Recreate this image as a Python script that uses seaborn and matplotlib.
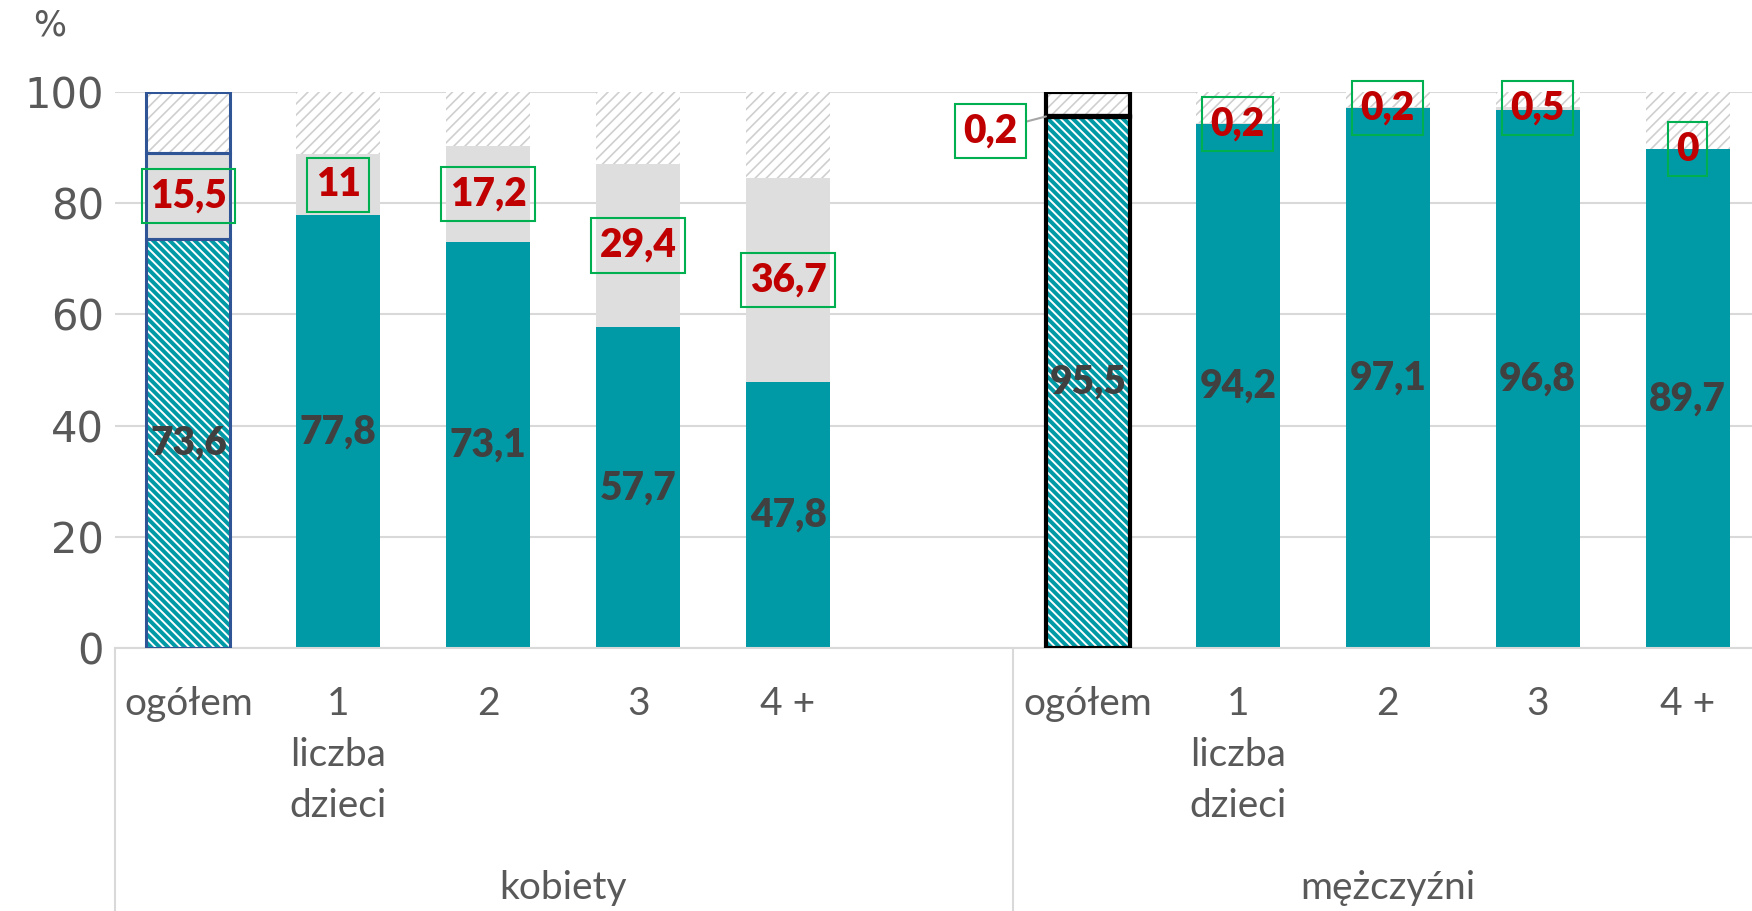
import matplotlib.pyplot as plt
import pandas as pd
import seaborn as sns

groups = ['kobiety', 'mężczyźni']
categories = ['ogółem', '1', '2', '3', '4 +']
women_main = [73.6, 77.8, 73.1, 57.7, 47.8]
women_extra = [15.5, 11, 17.2, 29.4, 36.7]
men_main = [95.5, 94.2, 97.1, 96.8, 89.7]
men_extra = [0.2, 0.2, 0.2, 0.5, 0]
sub_label = ['liczba', 'dzieci']
y_ticks = [0, 20, 40, 60, 80, 100]

TEAL = '#009AA6'
LIGHT = '#DEDEDE'
HATCH_GREY = '#CFCFCF'
RED = '#C00000'
GREEN = '#00B050'
DARK = '#404040'
AXIS_GREY = '#595959'
GRID = '#D9D9D9'
W = 0.56


def fmt(v):
    return '{:g}'.format(v).replace('.', ',')


sns.set_theme(style='white')
plt.rcParams['font.family'] = ['Lato', 'DejaVu Sans']
plt.rcParams['hatch.linewidth'] = 1.0

df = pd.DataFrame({
    'pos': list(range(0, 5)) + list(range(6, 11)),
    'main': women_main + men_main,
    'extra': women_extra + men_extra,
})
df['top'] = df['main'] + df['extra']
df['full'] = 100

fig = plt.figure(figsize=(17.52, 9.11), dpi=100)
ax = fig.add_axes([115 / 1752, 1 - 648 / 911, 1 - 115 / 1752, (648 - 92) / 911])

# layer 1: whole bar up to 100, hatched grey
sns.barplot(data=df, x='pos', y='full', native_scale=True, width=W, color='white',
            saturation=1, errorbar=None, ax=ax)
for p in ax.containers[-1]:
    p.set_facecolor('white')
    p.set_hatch('///')
    p.set_edgecolor(HATCH_GREY)
    p.set_linewidth(0)
    if hasattr(p, 'set_hatch_linewidth'):
        p.set_hatch_linewidth(1.2)

# layer 2: main + extra, light grey
sns.barplot(data=df, x='pos', y='top', native_scale=True, width=W, color=LIGHT,
            saturation=1, errorbar=None, ax=ax)
for p in ax.containers[-1]:
    p.set_linewidth(0)

# layer 3: main, teal
sns.barplot(data=df, x='pos', y='main', native_scale=True, width=W, color=TEAL,
            saturation=1, errorbar=None, ax=ax)
for i, p in enumerate(ax.containers[-1]):
    p.set_linewidth(0)
    if i in (0, 5):
        p.set_hatch('\\\\\\\\')
        p.set_edgecolor('white')
        if hasattr(p, 'set_hatch_linewidth'):
            p.set_hatch_linewidth(1.4)

# outlines for the "ogółem" bars
for idx, col, lw in [(0, '#2F5597', 2.2), (5, 'black', 3.0)]:
    r = df.iloc[idx]
    ax.bar([r.pos] * 3, [r.main, r.extra, 100 - r.top], bottom=[0, r.main, r.top],
           width=W, fill=False, edgecolor=col, linewidth=lw, zorder=3)

ax.set_xlim(-0.49, 10.43)
ax.set_ylim(0, 100)
ax.set_yticks(y_ticks)
ax.set_yticklabels([str(t) for t in y_ticks], family='DejaVu Sans', fontsize=30, color=AXIS_GREY)
ax.tick_params(axis='y', length=0, pad=8)
ax.set_xticks([])
ax.set_xlabel('')
ax.set_ylabel('')
ax.yaxis.grid(True, color=GRID, linewidth=1.5)
ax.set_axisbelow(True)
for s in ['left', 'right', 'top']:
    ax.spines[s].set_visible(False)
ax.spines['bottom'].set_color(GRID)
ax.spines['bottom'].set_linewidth(1.5)

# value labels
for i, r in df.iterrows():
    ax.text(r.pos, r.main / 2, fmt(r.main), ha='center', va='center', fontsize=28,
            fontweight='heavy', color=DARK, zorder=5)
    bbox = dict(boxstyle='square,pad=0.22', fc='none', ec=GREEN, lw=1.5)
    if i == 5:
        ax.annotate(fmt(r.extra), xy=(r.pos - W / 2, r.main + r.extra / 2),
                    xytext=(5.35, 93), ha='center', va='center', fontsize=28,
                    fontweight='heavy', color=RED, bbox=bbox, zorder=5,
                    arrowprops=dict(arrowstyle='-', color='#A6A6A6', lw=1.5,
                                    shrinkA=0, shrinkB=0))
    else:
        ax.text(r.pos, r.main + r.extra / 2, fmt(r.extra), ha='center', va='center',
                fontsize=28, fontweight='heavy', color=RED, bbox=bbox, zorder=5)

# category axis texts
tr = ax.get_xaxis_transform()
for g, offset in enumerate([0, 6]):
    for j, c in enumerate(categories):
        ax.text(offset + j, -0.10, c, transform=tr, ha='center', va='center',
                fontsize=28, color=AXIS_GREY)
    for k, s in enumerate(sub_label):
        ax.text(offset + 1, -0.192 - 0.093 * k, s, transform=tr, ha='center',
                va='center', fontsize=28, color=AXIS_GREY)
ax.text(2.5, -0.432, groups[0], transform=tr, ha='center', va='center',
        fontsize=28, color=AXIS_GREY)
ax.text(8, -0.432, groups[1], transform=tr, ha='center', va='center',
        fontsize=28, color=AXIS_GREY)
for xv in [-0.49, 5.5]:
    ax.plot([xv, xv], [0, -0.48], transform=tr, color=GRID, lw=1.5, clip_on=False)

fig.text(50 / 1752, 1 - 25 / 911, '%', ha='center', va='center', fontsize=25,
         family='DejaVu Sans', color=AXIS_GREY)

fig.savefig('out.png', dpi=100)
